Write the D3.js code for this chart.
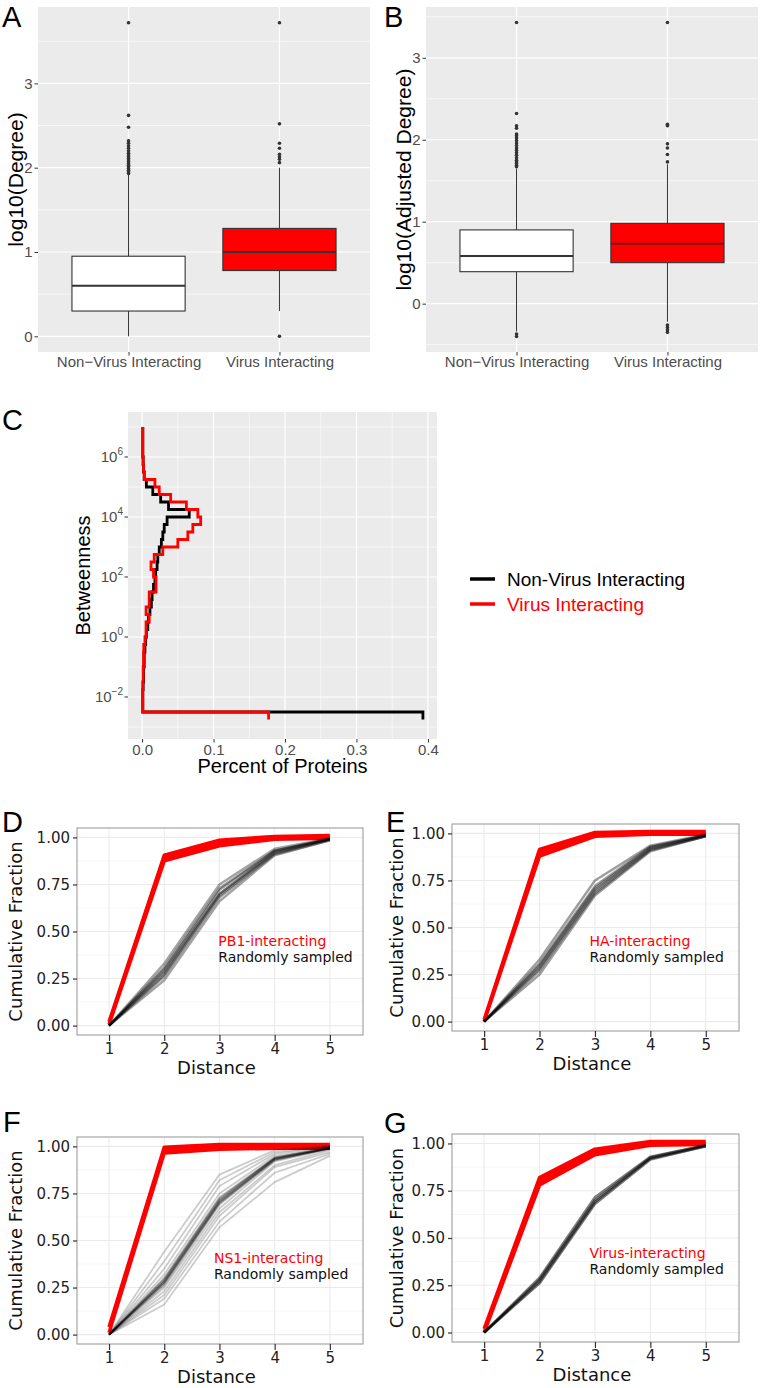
<!DOCTYPE html>
<html><head><meta charset="utf-8">
<script src="https://cdn.jsdelivr.net/npm/d3@7"></script>
<style>body{margin:0;background:#fff}</style>
</head><body>
<svg id="fig" width="766" height="1388"></svg>
<script>
// ---------------- DATA ----------------
const boxCategories = ["Non\u2212Virus Interacting", "Virus Interacting"];
const boxFills = ["#FFFFFF", "#FF0000"];
// [lower whisker, Q1, median, Q3, upper whisker]
const degreeBox = [[0, 0.30, 0.60, 0.95, 1.92], [0.30, 0.78, 1.00, 1.28, 2.00]];
const degreeOutliers = [
  [1.93,1.95,1.97,1.99,2.01,2.03,2.05,2.07,2.09,2.11,2.13,2.15,2.17,2.20,2.23,2.26,2.29,2.32,2.48,2.62,3.72],
  [0,2.06,2.10,2.13,2.16,2.23,2.29,2.52,3.72]
];
const adjBox = [[-0.34, 0.39, 0.58, 0.90, 1.65], [-0.22, 0.50, 0.73, 0.98, 1.70]];
const adjOutliers = [
  [-0.37,-0.40,1.67,1.69,1.71,1.73,1.75,1.78,1.81,1.84,1.87,1.90,1.93,1.96,1.99,2.02,2.05,2.07,2.14,2.17,2.32,3.43],
  [-0.26,-0.29,-0.32,-0.35,1.73,1.82,1.90,1.95,2.17,2.19,3.43]
];
const degreeTicks = [0, 1, 2, 3];

// Panel C: betweenness histogram (log10 lower bin edges, percent of proteins)
const betweenBinLog = [-2.75,-2.5,-2.25,-2.0,-1.75,-1.5,-1.25,-1.0,-0.75,-0.5,-0.25,0,0.25,0.5,0.75,1.0,1.25,1.5,1.75,2.0,2.25,2.5,2.75,3.0,3.25,3.5,3.75,4.0,4.25,4.5,4.75,5.0,5.25,5.5,5.75,6.0,6.25,6.5,6.75];
const nonVirusPct = [0.393,0.001,0.001,0.001,0.0015,0.002,0.002,0.003,0.003,0.004,0.005,0.006,0.008,0.009,0.011,0.013,0.014,0.016,0.018,0.019,0.021,0.022,0.024,0.027,0.029,0.031,0.035,0.066,0.037,0.026,0.015,0.006,0.003,0.002,0.0015,0.001,0.001,0.001,0.001];
const virusPct =    [0.177,0.001,0.001,0.001,0.001,0.0015,0.0015,0.002,0.002,0.0023,0.004,0.0056,0.0056,0.010,0.0056,0.010,0.010,0.0195,0.0195,0.016,0.0125,0.017,0.029,0.050,0.064,0.071,0.082,0.078,0.062,0.040,0.024,0.018,0.003,0.002,0.0015,0.001,0.001,0.001,0.001];
const betweenMajorLog = [-2, 0, 2, 4, 6];
const percentTicks = [0, 0.1, 0.2, 0.3, 0.4];
const legendLabels = ["Non-Virus Interacting", "Virus Interacting"];

// Panels D-G: cumulative fraction vs distance
const distance = [1, 2, 3, 4, 5];
const fractionTicks = [0, 0.25, 0.5, 0.75, 1.0];
const pb1RedLow  = [0.005, 0.875, 0.955, 0.99, 0.995];
const pb1RedHigh = [0.02, 0.905, 0.985, 1.005, 1.01];
const pb1Random = [
  [0,0.24,0.66,0.905,0.985],[0,0.26,0.68,0.91,0.985],[0,0.27,0.69,0.915,0.99],[0,0.28,0.70,0.92,0.99],
  [0,0.29,0.70,0.925,0.99],[0,0.30,0.72,0.93,0.99],[0,0.31,0.73,0.93,0.995],[0,0.33,0.75,0.94,0.995]
];
const haRedLow  = [0.0, 0.88, 0.985, 0.995, 0.995];
const haRedHigh = [0.01, 0.915, 1.005, 1.01, 1.01];
const haRandom = [
  [0,0.25,0.67,0.905,0.985],[0,0.27,0.68,0.91,0.985],[0,0.28,0.69,0.915,0.985],[0,0.29,0.70,0.92,0.99],
  [0,0.30,0.71,0.925,0.99],[0,0.31,0.72,0.93,0.99],[0,0.33,0.75,0.935,0.995]
];
const ns1RedLow  = [0.01, 0.965, 0.985, 0.99, 0.99];
const ns1RedHigh = [0.04, 0.995, 1.01, 1.01, 1.01];
const ns1Random = [
  [0,0.16,0.57,0.81,0.95],[0,0.19,0.60,0.86,0.96],[0,0.21,0.63,0.89,0.97],[0,0.23,0.65,0.90,0.98],
  [0,0.25,0.67,0.92,0.985],[0,0.26,0.69,0.925,0.99],[0,0.27,0.70,0.93,0.99],[0,0.28,0.71,0.935,0.99],
  [0,0.29,0.72,0.94,0.99],[0,0.30,0.73,0.94,0.995],[0,0.32,0.75,0.95,0.995],[0,0.35,0.79,0.96,1.0],
  [0,0.39,0.82,0.97,1.0],[0,0.44,0.85,0.98,1.0],
  [0,0.27,0.695,0.928,0.99],[0,0.28,0.705,0.932,0.99],[0,0.285,0.71,0.935,0.99],
  [0,0.29,0.715,0.938,0.992],[0,0.30,0.725,0.94,0.993],[0,0.275,0.70,0.93,0.99]
];
const virusRedLow  = [0.0, 0.78, 0.94, 0.99, 0.995];
const virusRedHigh = [0.02, 0.82, 0.97, 1.01, 1.01];
const virusRandom = [
  [0,0.26,0.68,0.915,0.985],[0,0.27,0.69,0.92,0.985],[0,0.28,0.70,0.925,0.99],[0,0.29,0.715,0.93,0.99]
];

// ---------------- DRAWING ----------------
const svg = d3.select("#fig");
const SANS = "'Liberation Sans', Arial, Helvetica, sans-serif";
const DEJA = "'DejaVu Sans', Verdana, sans-serif";

function panelLetter(t, x, y) {
  svg.append("text").attr("x", x).attr("y", y).attr("font-family", SANS)
    .attr("font-size", 29).attr("fill", "#000").text(t);
}

function boxPanel(o) {
  const g = svg.append("g");
  const x = d3.scalePoint().domain(boxCategories).range([o.left, o.right]).padding(0.6);
  const y = d3.scaleLinear().domain(o.yDomain).range([o.bottom, o.top]);
  const step = x.step();
  g.append("rect").attr("x", o.left).attr("y", o.top).attr("width", o.right - o.left)
    .attr("height", o.bottom - o.top).attr("fill", "#EBEBEB");
  const majors = degreeTicks;
  const minors = [majors[0] - 0.5].concat(majors.map(v => v + 0.5))
    .filter(v => v > o.yDomain[0] && v < o.yDomain[1]);
  g.selectAll(".mn").data(minors).join("line")
    .attr("x1", o.left).attr("x2", o.right).attr("y1", d => y(d)).attr("y2", d => y(d))
    .attr("stroke", "#fff").attr("stroke-width", 0.6);
  g.selectAll(".mj").data(majors).join("line")
    .attr("x1", o.left).attr("x2", o.right).attr("y1", d => y(d)).attr("y2", d => y(d))
    .attr("stroke", "#fff").attr("stroke-width", 1.2);
  g.selectAll(".vx").data(boxCategories).join("line")
    .attr("x1", d => x(d)).attr("x2", d => x(d)).attr("y1", o.top).attr("y2", o.bottom)
    .attr("stroke", "#fff").attr("stroke-width", 1.2);
  const bw = step * 0.75;
  boxCategories.forEach((c, i) => {
    const s = o.box[i], cx = x(c);
    g.append("line").attr("x1", cx).attr("x2", cx).attr("y1", y(s[3])).attr("y2", y(s[4]))
      .attr("stroke", "#333").attr("stroke-width", 1);
    g.append("line").attr("x1", cx).attr("x2", cx).attr("y1", y(s[0])).attr("y2", y(s[1]))
      .attr("stroke", "#333").attr("stroke-width", 1);
    g.append("rect").attr("x", cx - bw / 2).attr("width", bw).attr("y", y(s[3]))
      .attr("height", y(s[1]) - y(s[3])).attr("fill", boxFills[i])
      .attr("stroke", "#333").attr("stroke-width", 1.1);
    g.append("line").attr("x1", cx - bw / 2).attr("x2", cx + bw / 2).attr("y1", y(s[2])).attr("y2", y(s[2]))
      .attr("stroke", i === 1 && o.darkMedian ? "#7a1212" : "#333").attr("stroke-width", 2);
    g.selectAll(null).data(o.outliers[i]).join("circle")
      .attr("cx", cx).attr("cy", d => y(d)).attr("r", 1.8).attr("fill", "#333");
  });
  const ya = g.append("g").attr("transform", `translate(${o.left},0)`)
    .call(d3.axisLeft(y).tickValues(majors).tickFormat(d3.format("d")).tickSize(3.5).tickPadding(2));
  const xa = g.append("g").attr("transform", `translate(0,${o.bottom})`)
    .call(d3.axisBottom(x).tickSize(3.5).tickPadding(1));
  [ya, xa].forEach(a => {
    a.select(".domain").remove();
    a.selectAll(".tick line").attr("stroke", "#333");
    a.selectAll("text").attr("font-family", SANS).attr("font-size", 15).attr("fill", "#4D4D4D");
  });
  g.append("text").attr("transform", `translate(${o.titleX},${(o.top + o.bottom) / 2}) rotate(-90)`)
    .attr("text-anchor", "middle").attr("font-family", SANS).attr("font-size", 21).attr("fill", "#000")
    .text(o.title);
}

boxPanel({left: 38, right: 370, top: 7, bottom: 352, yDomain: [-0.186, 3.906],
  box: degreeBox, outliers: degreeOutliers, title: "log10(Degree)", titleX: 23});
boxPanel({left: 426, right: 758, top: 7, bottom: 352, yDomain: [-0.59, 3.62],
  box: adjBox, outliers: adjOutliers, title: "log10(Adjusted Degree)", titleX: 411, darkMedian: true});
panelLetter("A", 2, 27);
panelLetter("B", 384, 27);

// ---- Panel C ----
(function () {
  const L = 128, R = 437, T = 412, B = 739;
  const g = svg.append("g");
  const x = d3.scaleLinear().domain([-0.0197, 0.4127]).range([L, R]);
  const y = d3.scaleLinear().domain([-3.4, 7.5]).range([B, T]);
  g.append("rect").attr("x", L).attr("y", T).attr("width", R - L).attr("height", B - T).attr("fill", "#EBEBEB");
  const xMinor = percentTicks.slice(0, -1).map(v => v + 0.05);
  const yMinor = [betweenMajorLog[0] - 1].concat(betweenMajorLog.map(v => v + 1)).filter(v => v > -3.4 && v < 7.5);
  g.selectAll(".xm").data(xMinor).join("line").attr("x1", d => x(d)).attr("x2", d => x(d))
    .attr("y1", T).attr("y2", B).attr("stroke", "#fff").attr("stroke-width", 0.6);
  g.selectAll(".ym").data(yMinor).join("line").attr("y1", d => y(d)).attr("y2", d => y(d))
    .attr("x1", L).attr("x2", R).attr("stroke", "#fff").attr("stroke-width", 0.6);
  g.selectAll(".xM").data(percentTicks).join("line").attr("x1", d => x(d)).attr("x2", d => x(d))
    .attr("y1", T).attr("y2", B).attr("stroke", "#fff").attr("stroke-width", 1.2);
  g.selectAll(".yM").data(betweenMajorLog).join("line").attr("y1", d => y(d)).attr("y2", d => y(d))
    .attr("x1", L).attr("x2", R).attr("stroke", "#fff").attr("stroke-width", 1.2);

  function stepPts(vals) {
    const pts = [];
    vals.forEach((v, i) => {
      const lo = betweenBinLog[i];
      const hi = i < betweenBinLog.length - 1 ? betweenBinLog[i + 1] : lo + (lo - betweenBinLog[i - 1]);
      pts.push([v, lo], [v, hi]);
    });
    return pts;
  }
  const line = d3.line().x(d => x(d[0])).y(d => y(d[1]));
  g.append("path").attr("d", line(stepPts(nonVirusPct))).attr("fill", "none")
    .attr("stroke", "#000").attr("stroke-width", 2.8).attr("stroke-linejoin", "miter");
  g.append("path").attr("d", line(stepPts(virusPct))).attr("fill", "none")
    .attr("stroke", "#FF0000").attr("stroke-width", 2.8).attr("stroke-linejoin", "miter");

  // y axis (log labels)
  betweenMajorLog.forEach(k => {
    g.append("line").attr("x1", L - 3.5).attr("x2", L).attr("y1", y(k)).attr("y2", y(k)).attr("stroke", "#333");
    const t = g.append("text").attr("x", L - 5).attr("y", y(k) + 5).attr("text-anchor", "end")
      .attr("font-family", SANS).attr("font-size", 15).attr("fill", "#4D4D4D");
    t.append("tspan").text("10");
    t.append("tspan").attr("dy", -7).attr("font-size", 10).text(String(k).replace("-", "\u2212"));
  });
  const xa = g.append("g").attr("transform", `translate(0,${B})`)
    .call(d3.axisBottom(x).tickValues(percentTicks).tickFormat(d3.format(".1f")).tickSize(3.5).tickPadding(1.5));
  xa.select(".domain").remove();
  xa.selectAll(".tick line").attr("stroke", "#333");
  xa.selectAll("text").attr("font-family", SANS).attr("font-size", 15).attr("fill", "#4D4D4D");
  g.append("text").attr("x", (L + R) / 2).attr("y", 773).attr("text-anchor", "middle")
    .attr("font-family", SANS).attr("font-size", 20).text("Percent of Proteins");
  g.append("text").attr("transform", `translate(90,${(T + B) / 2}) rotate(-90)`).attr("text-anchor", "middle")
    .attr("font-family", SANS).attr("font-size", 20).text("Betweenness");
  // legend
  const colors = ["#000", "#FF0000"];
  legendLabels.forEach((lab, i) => {
    const ly = 579 + i * 25;
    g.append("line").attr("x1", 470).attr("x2", 495).attr("y1", ly).attr("y2", ly)
      .attr("stroke", colors[i]).attr("stroke-width", 3.5);
    g.append("text").attr("x", 507).attr("y", ly + 7).attr("font-family", SANS).attr("font-size", 19)
      .attr("fill", i === 0 ? "#000" : "#FF0000").text(lab);
  });
})();
panelLetter("C", 2, 430);

// ---- Panels D-G ----
function cdfPanel(o) {
  const g = svg.append("g");
  const x = d3.scaleLinear().domain([0.42, 5.6]).range([o.left, o.right]);
  const y = d3.scaleLinear().domain([-0.05, 1.05]).range([o.bottom, o.top]);
  g.append("rect").attr("x", o.left).attr("y", o.top).attr("width", o.right - o.left)
    .attr("height", o.bottom - o.top).attr("fill", "#fff");
  const yMinor = fractionTicks.slice(0, -1).map(v => v + 0.125);
  g.selectAll(".ym").data(yMinor).join("line").attr("x1", o.left).attr("x2", o.right)
    .attr("y1", d => y(d)).attr("y2", d => y(d)).attr("stroke", "#F3F3F3").attr("stroke-width", 0.8);
  g.selectAll(".yM").data(fractionTicks).join("line").attr("x1", o.left).attr("x2", o.right)
    .attr("y1", d => y(d)).attr("y2", d => y(d)).attr("stroke", "#EBEBEB").attr("stroke-width", 1.1);
  g.selectAll(".xM").data(distance).join("line").attr("y1", o.top).attr("y2", o.bottom)
    .attr("x1", d => x(d)).attr("x2", d => x(d)).attr("stroke", "#EBEBEB").attr("stroke-width", 1.1);

  const line = d3.line().x((d, i) => x(distance[i])).y(d => y(d));
  const area = d3.area().x((d, i) => x(distance[i])).y0((d, i) => y(o.redLow[i])).y1((d, i) => y(o.redHigh[i]));
  g.append("path").attr("d", area(o.redLow)).attr("fill", "#FF0000");
  [o.redLow, o.redHigh].forEach(arr => g.append("path").attr("d", line(arr)).attr("fill", "none")
    .attr("stroke", "#FF0000").attr("stroke-width", 3.5).attr("stroke-linejoin", "round"));
  o.random.forEach(arr => g.append("path").attr("d", line(arr)).attr("fill", "none")
    .attr("stroke", "#000").attr("stroke-opacity", o.rOpacity).attr("stroke-width", o.rWidth)
    .attr("stroke-linejoin", "round"));

  g.append("rect").attr("x", o.left).attr("y", o.top).attr("width", o.right - o.left)
    .attr("height", o.bottom - o.top).attr("fill", "none").attr("stroke", "#A6A6A6").attr("stroke-width", 1.2);

  const ya = g.append("g").attr("transform", `translate(${o.left},0)`)
    .call(d3.axisLeft(y).tickValues(fractionTicks).tickFormat(d3.format(".2f")).tickSize(4).tickPadding(3));
  const xa = g.append("g").attr("transform", `translate(0,${o.bottom})`)
    .call(d3.axisBottom(x).tickValues(distance).tickFormat(d3.format("d")).tickSize(6).tickPadding(2));
  [ya, xa].forEach(a => {
    a.select(".domain").remove();
    a.selectAll(".tick line").attr("stroke", "#333").attr("stroke-width", 1.2);
    a.selectAll("text").attr("font-family", DEJA).attr("font-size", 15).attr("fill", "#222");
  });
  g.append("text").attr("x", x(3) - 3).attr("y", o.bottom + 39).attr("text-anchor", "middle")
    .attr("font-family", DEJA).attr("font-size", 18).attr("fill", "#111").text("Distance");
  g.append("text").attr("transform", `translate(${o.titleX},${(o.top + o.bottom) / 2}) rotate(-90)`)
    .attr("text-anchor", "middle").attr("font-family", DEJA).attr("font-size", 18).attr("fill", "#111")
    .text("Cumulative Fraction");
  g.append("text").attr("x", x(o.labelX)).attr("y", y(o.labelY) + 5).attr("font-family", DEJA)
    .attr("font-size", 14).attr("fill", "#FF0000").text(o.label);
  g.append("text").attr("x", x(o.labelX)).attr("y", y(o.labelY) + 21).attr("font-family", DEJA)
    .attr("font-size", 14).attr("fill", "#111").text("Randomly sampled");
}

cdfPanel({left: 77, right: 363, top: 828, bottom: 1035, titleX: 22, redLow: pb1RedLow, redHigh: pb1RedHigh,
  random: pb1Random, rOpacity: 0.36, rWidth: 2.4, label: "PB1-interacting", labelX: 2.98, labelY: 0.45});
cdfPanel({left: 452, right: 739, top: 824, bottom: 1031, titleX: 403, redLow: haRedLow, redHigh: haRedHigh,
  random: haRandom, rOpacity: 0.38, rWidth: 2.4, label: "HA-interacting", labelX: 2.9, labelY: 0.43});
cdfPanel({left: 77, right: 363, top: 1137, bottom: 1344, titleX: 22, redLow: ns1RedLow, redHigh: ns1RedHigh,
  random: ns1Random, rOpacity: 0.2, rWidth: 1.8, label: "NS1-interacting", labelX: 2.9, labelY: 0.405});
cdfPanel({left: 452, right: 739, top: 1134, bottom: 1342, titleX: 403, redLow: virusRedLow, redHigh: virusRedHigh,
  random: virusRandom, rOpacity: 0.5, rWidth: 2.6, label: "Virus-interacting", labelX: 2.9, labelY: 0.42});
panelLetter("D", 2, 832);
panelLetter("E", 386, 832);
panelLetter("F", 3, 1132);
panelLetter("G", 384, 1133);
</script>
</body></html>
